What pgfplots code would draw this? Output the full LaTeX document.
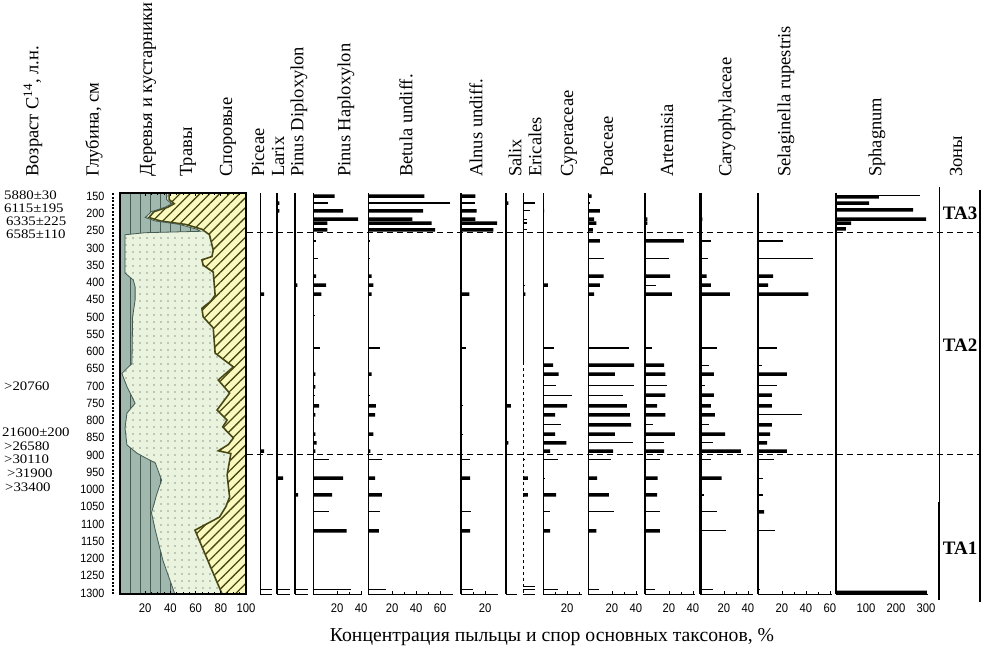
\documentclass[border=0pt]{standalone}
\usepackage{fontspec}
\setmainfont{Liberation Serif}
\newfontfamily\numfont{Liberation Sans}[FakeStretch=0.9]
\newfontfamily\agefont{Liberation Serif}[FakeStretch=1.14]
\usepackage{pgfplots}
\pgfplotsset{compat=1.18}
\usetikzlibrary{patterns.meta}
\definecolor{treec}{RGB}{160,184,174}
\definecolor{treeln}{RGB}{70,92,82}
\definecolor{grassc}{RGB}{233,243,222}
\definecolor{sporec}{RGB}{250,249,192}
\definecolor{hatchc}{RGB}{72,72,16}
\newcommand\hdr{\fontsize{18.5}{18.5}\selectfont}
\newcommand\tickf{\numfont\fontsize{12.5}{12.5}\selectfont}
\newcommand\agef{\agefont\fontsize{13}{13}\selectfont}
\pgfplotsset{
 panel/.style={anchor=south west, scale only axis, height=401pt, ymin=141, ymax=1303, y dir=reverse, xmin=0,
   axis x line*=bottom, axis y line*=left, axis line style={-, line width=0.8pt}, ytick=\empty, xtick=\empty, clip=false,
   tick style={black, line width=0.8pt}, major tick length=3pt, minor tick length=2pt,
   xticklabel style={font=\tickf, yshift=-6pt},
   /pgf/number format/assume math mode=true, /pgf/number format/1000 sep={},
   after end axis/.code={\draw[line width=0.8pt] (rel axis cs:0,0) -- (rel axis cs:1,0);}},
 thk/.style={xbar, bar width=3.5pt, bar shift=0pt, fill=black, draw=none},
 thn/.style={xcomb, black, line width=1.1pt, mark=none},
}
\begin{document}
\begin{tikzpicture}[x=1pt,y=1pt]
\path[use as bounding box] (0,0) rectangle (1003,651);

% ---------- summary panel ----------
\begin{axis}[anchor=south west, at={(120pt,57pt)}, scale only axis, width=126pt, height=401pt,
  xmin=0, xmax=100, ymin=141, ymax=1303, y dir=reverse, clip=false, axis on top,
  axis line style={line width=1.3pt}, tick style={black, line width=0.8pt},
  xtick={20,40,60,80,100}, minor x tick num=3, major tick length=3pt, minor tick length=2pt,
  ytick={150,200,...,1300}, ytick style={draw=none},
  xticklabel style={font=\tickf, yshift=-6pt},
  yticklabel style={font=\numfont\fontsize{12}{12}\selectfont, xshift=-12pt},
  /pgf/number format/assume math mode=true, /pgf/number format/1000 sep={}]
% spores (background)
\addplot[fill=sporec, draw=none] coordinates {(0,141) (100,141) (100,1303) (0,1303)};
\addplot[pattern={Lines[angle=45,distance=7pt,line width=1.3pt]}, pattern color=hatchc, draw=none]
  coordinates {(0,141) (100,141) (100,1303) (0,1303)};
% herbs (cumulative trees+herbs)
\addplot[fill=grassc, draw=none] coordinates {(0,141) (39,141) (39,160) (43,172) (38,182) (27,195) (23,212) (32,222) (52,232) (65,246) (68,254) (71,262) (74,306) (73,325) (65,335) (66,350) (74,370) (75.5,437) (72,455) (65,475) (66,500) (74,532) (75.5,605) (90,645) (78,683) (87,721) (77,770) (85,799) (81.5,819) (90,851) (86,870) (78,888) (88,896) (85,958) (87,1022) (84,1050) (79,1080) (59.5,1118) (81,1303) (0,1303)};
\addplot[pattern={Dots[distance=7pt,radius=0.65pt]}, pattern color=black!80, draw=none] coordinates {(0,141) (39,141) (39,160) (43,172) (38,182) (27,195) (23,212) (32,222) (52,232) (65,246) (68,254) (71,262) (74,306) (73,325) (65,335) (66,350) (74,370) (75.5,437) (72,455) (65,475) (66,500) (74,532) (75.5,605) (90,645) (78,683) (87,721) (77,770) (85,799) (81.5,819) (90,851) (86,870) (78,888) (88,896) (85,958) (87,1022) (84,1050) (79,1080) (59.5,1118) (81,1303) (0,1303)};
\addplot[hatchc, line width=1.6pt] coordinates {(39,141) (39,160) (43,172) (38,182) (27,195) (23,212) (32,222) (52,232) (65,246) (68,254) (71,262) (74,306) (73,325) (65,335) (66,350) (74,370) (75.5,437) (72,455) (65,475) (66,500) (74,532) (75.5,605) (90,645) (78,683) (87,721) (77,770) (85,799) (81.5,819) (90,851) (86,870) (78,888) (88,896) (85,958) (87,1022) (84,1050) (79,1080) (59.5,1118) (81,1303)};
% trees
\addplot[fill=treec, draw=none] coordinates {(0,141) (37,141) (37,160) (41,172) (36,182) (25,195) (20,212) (28,222) (47,232) (61,246) (64,252) (20,256) (4,262) (4,373) (10.5,393) (12,413) (12,451) (10,500) (9.5,635) (1.5,664) (5.5,702) (12,750) (5.5,779) (4,822) (5.5,871) (13.5,895) (21,910) (28,923) (33,973) (29,1016) (25,1068) (28,1118) (34,1205) (43.5,1303) (0,1303)};
\addplot[pattern={Lines[angle=90,distance=10pt,line width=0.7pt]}, pattern color=treeln, draw=none] coordinates {(0,141) (37,141) (37,160) (41,172) (36,182) (25,195) (20,212) (28,222) (47,232) (61,246) (64,252) (20,256) (4,262) (4,373) (10.5,393) (12,413) (12,451) (10,500) (9.5,635) (1.5,664) (5.5,702) (12,750) (5.5,779) (4,822) (5.5,871) (13.5,895) (21,910) (28,923) (33,973) (29,1016) (25,1068) (28,1118) (34,1205) (43.5,1303) (0,1303)};
\addplot[treeln, line width=0.8pt] coordinates {(37,141) (37,160) (41,172) (36,182) (25,195) (20,212) (28,222) (47,232) (61,246) (64,252) (20,256) (4,262) (4,373) (10.5,393) (12,413) (12,451) (10,500) (9.5,635) (1.5,664) (5.5,702) (12,750) (5.5,779) (4,822) (5.5,871) (13.5,895) (21,910) (28,923) (33,973) (29,1016) (25,1068) (28,1118) (34,1205) (43.5,1303)};
% depth ruler
\addplot[black, line width=2pt, dash pattern=on 2pt off 1.5pt] coordinates {(-5.6,141) (-5.6,1303)};
\end{axis}

% ---------- taxa ----------
\begin{axis}[panel, at={(260pt,57pt)}, width=12pt, xmax=10]
\addplot[thk] coordinates {(3.5,434) (3.5,889)};
\addplot[thn] coordinates {(10,1291)};
\end{axis}
\begin{axis}[panel, at={(277pt,57pt)}, width=13pt, xmax=10.8, y axis line style={line width=2pt}]
\addplot[thk] coordinates {(2,170) (2,193) (5,967)};
\addplot[thn] coordinates {(10.8,1291)};
\end{axis}
\begin{axis}[panel, at={(295pt,57pt)}, width=13pt, xmax=10.8, y axis line style={line width=2pt}]
\addplot[thk] coordinates {(2.5,1016) (2,408)};
\addplot[thn] coordinates {(10.8,1291)};
\end{axis}
\begin{axis}[panel, at={(313pt,57pt)}, width=49pt, xmax=40.8, xtick={20,40}, minor x tick num=1]
\addplot[thk] coordinates {(18,150) (25,193) (37.5,217) (12,228) (12,248) (2.5,382) (11,408) (7,434) (2,666) (2,703) (5,758) (2,784) (2,840) (3,865) (2,889) (25,967) (16,1016) (28,1120)};
\addplot[thn] coordinates {(12.5,170) (2.5,280) (4,332) (1.5,495) (6,590) (1.5,727) (13,912) (13,1065) (32,1291)};
\end{axis}
\begin{axis}[panel, at={(368pt,57pt)}, width=85pt, xmax=70.8, xtick={20,40,60}, minor x tick num=1]
\addplot[thk] coordinates {(47,150) (46,193) (37,217) (53,228) (56,248) (3,382) (4.5,408) (3,434) (3,666) (6.5,758) (6,784) (4.5,840) (2,889) (6,967) (11.5,1016) (9,1120)};
\addplot[thn] coordinates {(68,170) (1.5,280) (2,332) (10,590) (2,727) (11.5,912) (10,1065) (15,1291)};
\end{axis}
\begin{axis}[panel, at={(461pt,57pt)}, width=37pt, xmax=30.8, xtick={20}, minor xtick={10}, y axis line style={line width=1.2pt}]
\addplot[thk] coordinates {(12,150) (13,193) (12,217) (30,228) (27,248) (7,434) (7.5,967) (7.5,1120)};
\addplot[thn] coordinates {(12,170) (1,280) (1,382) (4,590) (1.5,758) (1.5,840) (7.5,912) (8,1065) (10,1291)};
\end{axis}
\begin{axis}[panel, at={(506pt,57pt)}, width=11pt, xmax=9.2, y axis line style={line width=2.5pt}]
\addplot[thk] coordinates {(2,170) (4,758) (2,865)};
\end{axis}
\begin{axis}[panel, at={(523pt,57pt)}, width=12pt, xmax=10, axis y line=none]
\addplot[black, line width=0.8pt] coordinates {(0,141) (0,630)};
\addplot[black, line width=0.8pt, dash pattern=on 3pt off 3pt] coordinates {(0,630) (0,1303)};
\addplot[thk] coordinates {(4,967) (4,1016) (2,434)};
\addplot[thn] coordinates {(10,170) (6,193) (3.5,217) (3,228) (3,248) (2,408) (2,912) (10,1280) (10,1291)};
\end{axis}
\begin{axis}[panel, at={(543pt,57pt)}, width=39pt, xmax=32.5, xtick={20}, minor xtick={10,30}]
\addplot[thk] coordinates {(1,193) (4,408) (8.5,640) (13,666) (20,758) (10,784) (10,840) (19.5,865) (6,889) (11,1016) (6,1120)};
\addplot[thn] coordinates {(1,332) (9,590) (11,700) (24,727) (15,813) (12.5,912) (2,967) (6,1065) (12.5,1291)};
\end{axis}
\begin{axis}[panel, at={(588pt,57pt)}, width=50pt, xmax=41.7, xtick={20,40}, minor x tick num=1]
\addplot[thk] coordinates {(3,150) (10,193) (5,217) (7,228) (4,248) (10,280) (13,382) (10,408) (5,434) (38.5,640) (22.5,666) (32.5,758) (35,784) (36,813) (22.5,840) (21,889) (7.5,967) (17.5,1016) (7,1120)};
\addplot[thn] coordinates {(2,170) (13,332) (34,590) (38.5,700) (29,727) (37.5,865) (19,912) (22,1065) (9,1291)};
\end{axis}
\begin{axis}[panel, at={(645pt,57pt)}, width=50pt, xmax=41.7, xtick={20,40}, minor x tick num=1, y axis line style={line width=2.5pt}]
\addplot[thk] coordinates {(2,217) (2,228) (32.5,280) (21,382) (22.5,434) (16,640) (17,666) (17,727) (10,758) (17,784) (25,840) (16,889) (10.5,967) (10,1016) (12.5,1120)};
\addplot[thn] coordinates {(20,332) (9,408) (5.5,590) (18,700) (7,813) (15.5,865) (12.5,912) (12.5,1065) (8,1291)};
\end{axis}
\begin{axis}[panel, at={(700pt,57pt)}, width=53pt, xmax=44.2, xtick={20,40}, minor x tick num=1, y axis line style={line width=3pt}]
\addplot[thk] coordinates {(2,217) (5.5,382) (9,408) (25,434) (11.5,666) (11.5,727) (9,758) (12.5,784) (21,840) (34,889) (18,967)};
\addplot[thn] coordinates {(9,280) (7,332) (14,590) (7.5,640) (4,700) (7.5,813) (10.5,865) (9,912) (3,1016) (14,1065) (21.5,1120) (10.5,1291)};
\end{axis}
\begin{axis}[panel, at={(758pt,57pt)}, width=74pt, xmax=61.7, xtick={20,40,60}, minor x tick num=1, y axis line style={line width=1.2pt}]
\addplot[thk] coordinates {(12.5,382) (8.5,408) (42,434) (24,666) (11.5,727) (11.5,758) (11.5,813) (10,840) (7.5,865) (24,889) (5,1065)};
\addplot[thn] coordinates {(21,280) (46,332) (15.5,590) (3,640) (15.5,700) (36.5,784) (13,912) (4,967) (4,1016) (14,1120) (2,1291)};
\end{axis}
\begin{axis}[panel, at={(836pt,57pt)}, width=92pt, xmax=306.7, xtick={100,200,300}, minor x tick num=1, y axis line style={line width=2.5pt}]
\addplot[thk] coordinates {(143,152) (110,170) (257,190) (300,217) (50,228) (33,245) (303,1298)};
\addplot[thn] coordinates {(280,148)};
\end{axis}

% ---------- zone boundaries and zones column ----------
\begin{axis}[anchor=south west, at={(247pt,57pt)}, scale only axis, width=734pt, height=401pt,
  xmin=247, xmax=981, ymin=141, ymax=1303, y dir=reverse, axis lines=none, clip=false]
\addplot[black, line width=0.9pt, dash pattern=on 6pt off 4pt] coordinates {(247,254) (981,254)};
\addplot[black, line width=0.9pt, dash pattern=on 6pt off 4pt] coordinates {(247,900) (981,900)};
\addplot[black, line width=1pt] coordinates {(939,123) (939,1320)};
\addplot[black, line width=2.5pt] coordinates {(939,1037) (939,1320)};
\addplot[black, line width=1.3pt] coordinates {(980,131) (980,700)};
\addplot[black, line width=2pt] coordinates {(980,690) (980,1325)};
\node[font=\bfseries\fontsize{19}{19}\selectfont] at (axis cs:960,199) {TA3};
\node[font=\bfseries\fontsize{19}{19}\selectfont] at (axis cs:960,582) {TA2};
\node[font=\bfseries\fontsize{19}{19}\selectfont] at (axis cs:960,1170) {TA1};
\end{axis}

% ---------- column headers ----------
\begin{scope}[every node/.style={rotate=90, anchor=west, inner sep=0pt, font=\hdr}]
\node at (33,474) {Возраст C\textsuperscript{14}, л.н.};
\node at (94,474) {Глубина, см};
\node at (148,474) {Деревья и кустарники};
\node at (188,474) {Травы};
\node at (228,474) {Споровые};
\node at (258,474) {Piceae};
\node at (278,474) {Larix};
\node at (299,474) {Pinus Diploxylon};
\node at (346,474) {Pinus Haploxylon};
\node at (406,474) {Betula undiff.};
\node at (476,474) {Alnus undiff.};
\node at (515,474) {Salix};
\node at (535,474) {Ericales};
\node at (569,474) {Cyperaceae};
\node at (607,474) {Poaceae};
\node at (667,474) {Artemisia};
\node at (727,474) {Caryophylaceae};
\node at (786,474) {Selaginella rupestris};
\node at (877,474) {Sphagnum};
\node at (956,474) {Зоны};
\end{scope}

% ---------- radiocarbon ages ----------
\begin{scope}[every node/.style={anchor=west, inner sep=0pt, font=\agef}]
\node at (4,456) {5880±30};
\node at (4,443) {6115±195};
\node at (6,430) {6335±225};
\node at (6,417) {6585±110};
\node at (4,265) {>20760};
\node at (2,219) {21600±200};
\node at (4,205) {>26580};
\node at (4,191.5) {>30110};
\node at (7,177.5) {>31900};
\node at (5,164) {>33400};
\end{scope}

\node[font=\fontsize{19.7}{19.7}\selectfont] at (552,14) {Концентрация пыльцы и спор основных таксонов, \%};
\end{tikzpicture}
\end{document}
